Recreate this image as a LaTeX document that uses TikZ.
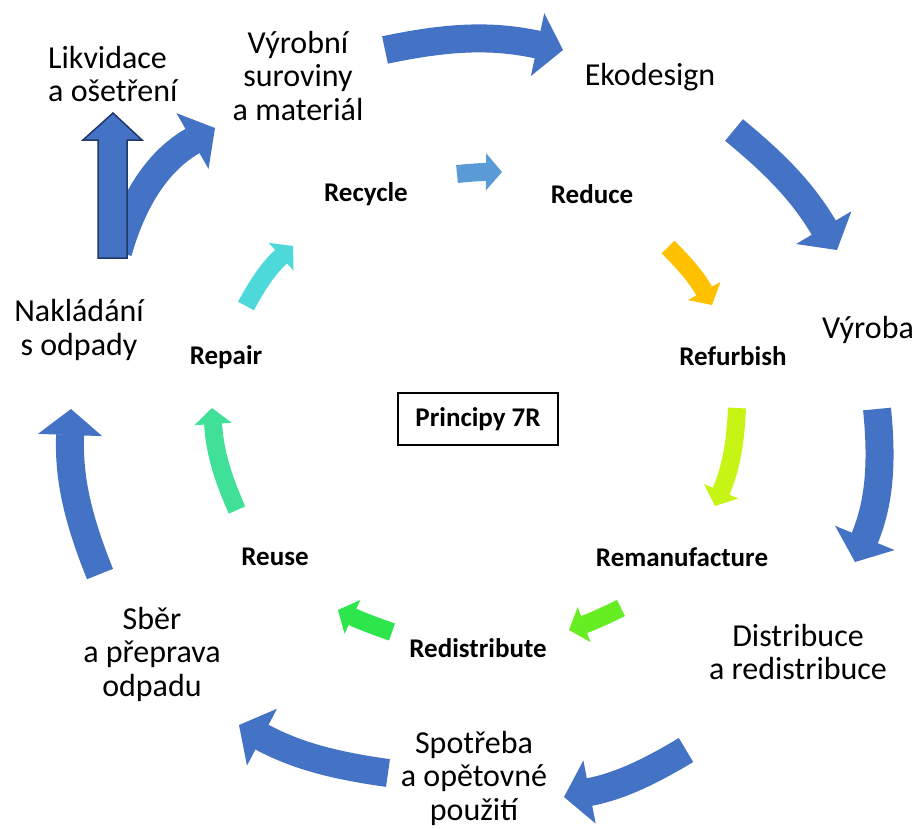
\documentclass[tikz,border=0pt]{standalone}
\usepackage{fontspec}
\setmainfont{Carlito}
\usetikzlibrary{arrows.meta}

\definecolor{modra}{HTML}{4472C4}
\definecolor{tmavomodra}{HTML}{1F3864}
\definecolor{svetlemodra}{HTML}{5B9BD5}
\definecolor{zluta}{HTML}{FFC000}
\definecolor{limetka}{HTML}{C6F414}
\definecolor{zelena}{HTML}{66EE22}
\definecolor{sytazelena}{HTML}{2DE64B}
\definecolor{mata}{HTML}{40E098}
\definecolor{tyrkys}{HTML}{4DD9DA}

\tikzset{
  velkasipka/.style={draw=modra, line width=28pt,
    -{Triangle[width=64pt,length=26pt,line width=1.5pt]}},
  malasipka/.style={line width=18pt,
    -{Triangle[width=37pt,length=16pt,line width=1.2pt]}},
  popis/.style={font=\fontsize{32}{33.5}\selectfont, align=center, inner sep=0pt},
  princip/.style={font=\fontsize{27}{29}\selectfont\bfseries, inner sep=0pt},
}

\begin{document}
\begin{tikzpicture}[x=1pt,y=-1pt]
        \useasboundingbox (0,0) rectangle (917,828);

        % ~~~~ Vnejsi cyklus ~~~~%
        \node[popis, anchor=west, align=left] (likvidace) at (48,74) {Likvidace\\a ošetření};
        \node[popis] (suroviny) at (298,76) {Výrobní\\suroviny\\a materiál};
        \node[popis] (ekodesign) at (650,77) {Ekodesign};
        \node[popis] (vyroba) at (868,330) {Výroba};
        \node[popis] (distribuce) at (798,652) {Distribuce\\a redistribuce};
        \node[popis] (spotreba) at (474,778) {Spotřeba\\a opětovné\\použití};
        \node[popis] (sber) at (152,654) {Sběr\\a přeprava\\odpadu};
        \node[popis] (nakladani) at (79,330) {Nakládání\\s odpady};

        % ~~~~ Principy 7R ~~~~%
        \node[princip] (recycle) at (366,194) {Recycle};
        \node[princip] (reduce) at (592,194) {Reduce};
        \node[princip] (refurbish) at (733,356) {Refurbish};
        \node[princip] (remanufacture) at (682,557) {Remanufacture};
        \node[princip] (redistribute) at (478,648) {Redistribute};
        \node[princip] (reuse) at (275,557) {Reuse};
        \node[princip] (repair) at (226,357) {Repair};
        \node[princip, draw, line width=1.3pt, minimum width=160pt, minimum height=52pt]
            (principy) at (478,419) {Principy 7R};

        % ~~~~ Konce velkych sipek ~~~~%
        \coordinate (v1a) at (385,50);   \coordinate (v1b) at (563,50);
        \coordinate (v2a) at (734,130);  \coordinate (v2b) at (837,250);
        \coordinate (v3a) at (877,409);  \coordinate (v3b) at (855,562);
        \coordinate (v4a) at (686,750);  \coordinate (v4b) at (564,797);
        \coordinate (v5a) at (388,773);  \coordinate (v5b) at (239,725);
        \coordinate (v6a) at (100,574);  \coordinate (v6b) at (71,409);
        \coordinate (v7a) at (118,252);  \coordinate (v7b) at (215,128);

        \draw[velkasipka] (v1a) to[bend left=12] (v1b);
        \draw[velkasipka] (v2a) to[bend left=10] (v2b);
        \draw[velkasipka] (v3a) to[bend left=14] (v3b);
        \draw[velkasipka] (v4a) to[bend left=10] (v4b);
        \draw[velkasipka] (v5a) to[bend left=10] (v5b);
        \draw[velkasipka] (v6a) to[bend left=12] (v6b);
        \draw[velkasipka] (v7a) to[bend left=22] (v7b);

        % ~~~~ Sipka k likvidaci ~~~~%
        \filldraw[fill=modra, draw=tmavomodra, line width=1.5pt]
            (98,258) -- (98,140) -- (83,140) -- (113,113) -- (142,140)
            -- (127,140) -- (127,258) -- cycle;

        % ~~~~ Male barevne sipky ~~~~%
        \coordinate (m1a) at (457,174);  \coordinate (m1b) at (502,172);
        \coordinate (m2a) at (668,247);  \coordinate (m2b) at (712,305);
        \coordinate (m3a) at (737,408);  \coordinate (m3b) at (715,506);
        \coordinate (m4a) at (621,608);  \coordinate (m4b) at (569,630);
        \coordinate (m5a) at (392,632);  \coordinate (m5b) at (338,610);
        \coordinate (m6a) at (237,510);  \coordinate (m6b) at (212,408);
        \coordinate (m7a) at (246,306);  \coordinate (m7b) at (293,246);

        \draw[malasipka, svetlemodra] (m1a) to[bend left=3] (m1b);
        \draw[malasipka, zluta] (m2a) to[bend left=8] (m2b);
        \draw[malasipka, limetka] (m3a) to[bend left=10] (m3b);
        \draw[malasipka, zelena] (m4a) to[bend left=3] (m4b);
        \draw[malasipka, sytazelena] (m5a) to[bend left=3] (m5b);
        \draw[malasipka, mata] (m6a) to[bend left=10] (m6b);
        \draw[malasipka, tyrkys] (m7a) to[bend left=10] (m7b);
\end{tikzpicture}
\end{document}
